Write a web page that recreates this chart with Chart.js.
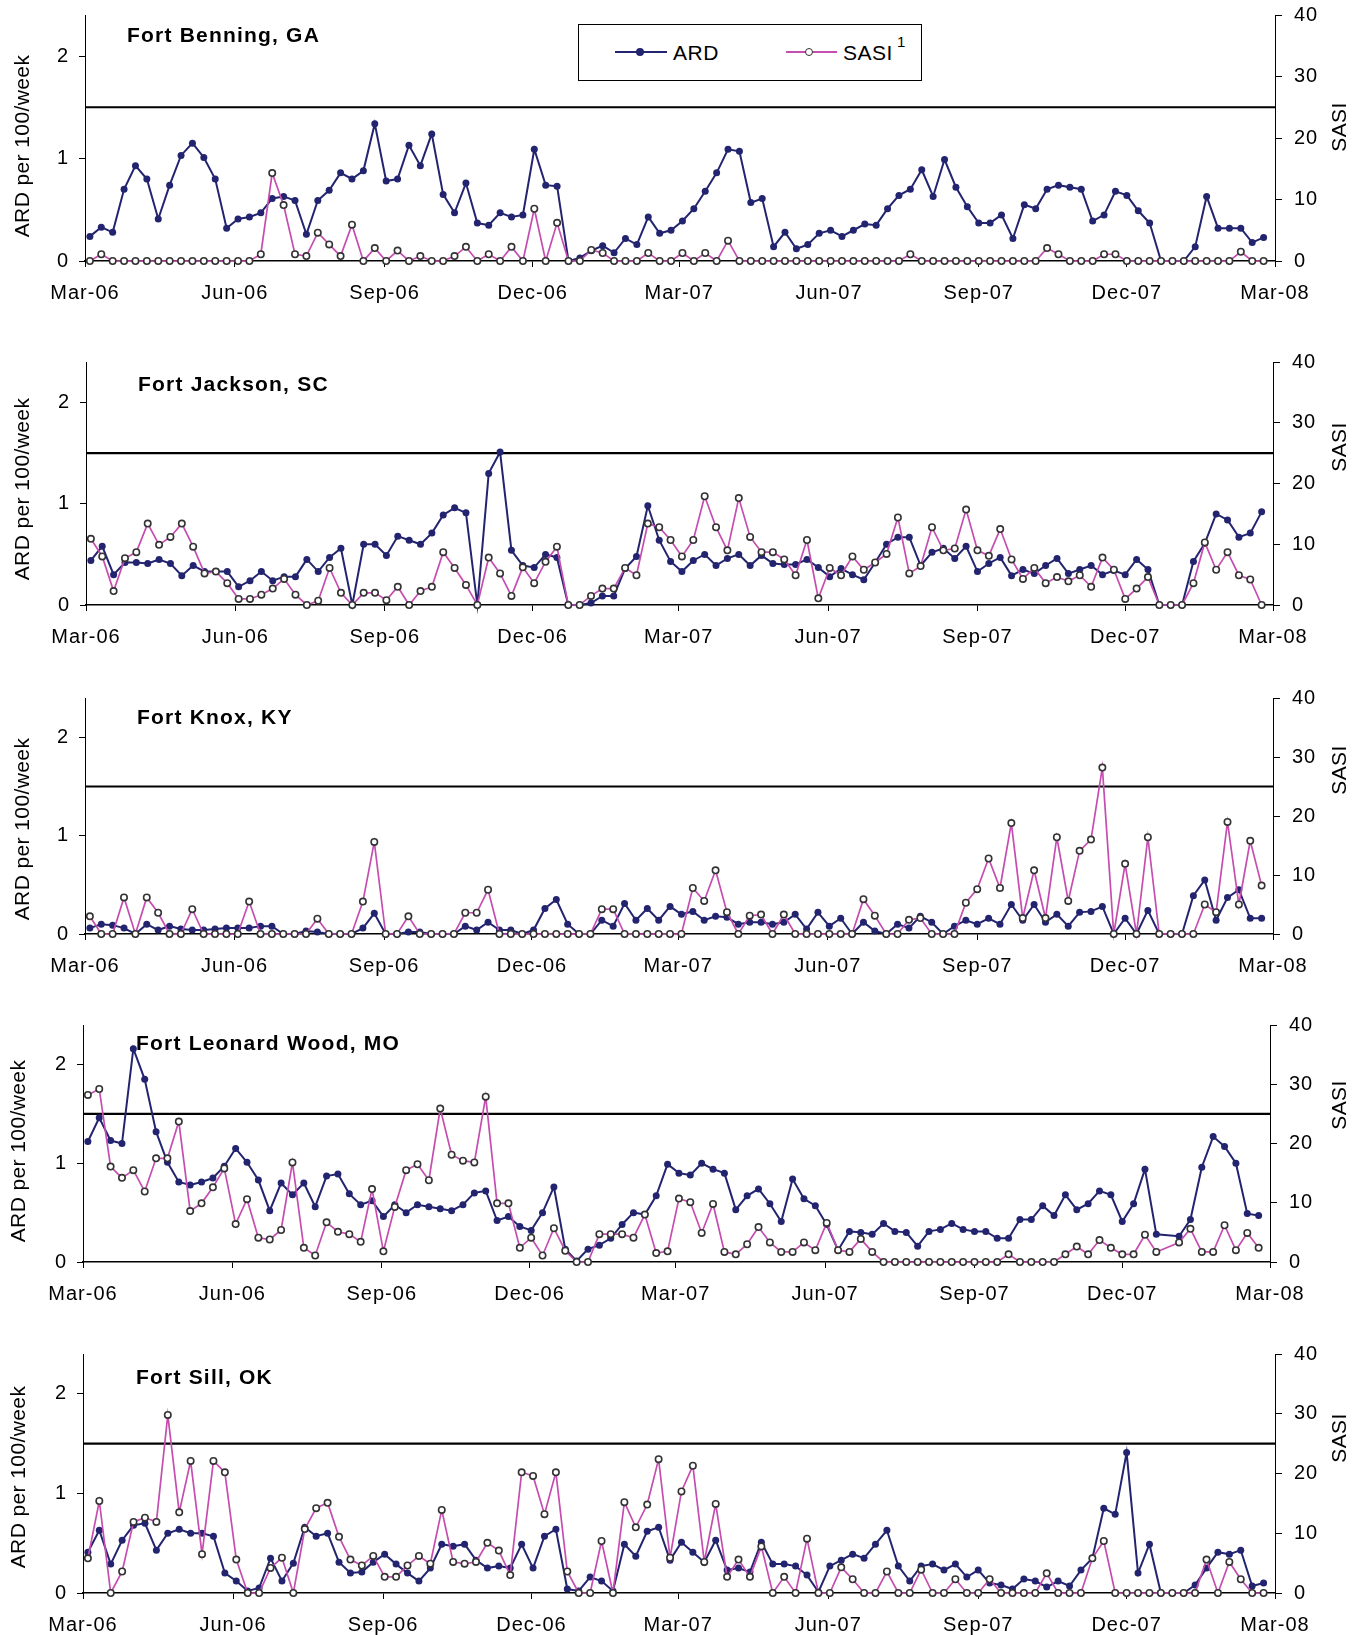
<!DOCTYPE html>
<html>
<head>
<meta charset="utf-8">
<title>ARD and SASI by training site</title>
<script src="https://cdn.jsdelivr.net/npm/chart.js@4.4.1/dist/chart.umd.min.js"></script>
<style>
  html, body { margin: 0; padding: 0; background: #fff; }
  #page {
    position: relative; width: 1358px; height: 1635px; overflow: hidden;
    font-family: "Liberation Sans", Arial, sans-serif; color: #000;
  }
  .panel { position: absolute; left: 0; }
  .panel canvas { display: block; }
  .site {
    position: absolute; font-weight: bold; font-size: 21px; letter-spacing: 1.2px;
    line-height: 1; transform: translateY(-50%); white-space: nowrap;
  }
  .ytitle {
    position: absolute; font-size: 21px; letter-spacing: 0.4px; line-height: 1; white-space: nowrap;
    transform: translate(-50%, -50%) rotate(-90deg);
  }
  #legend {
    position: absolute; left: 578px; top: 24px; width: 344px; height: 57px;
    border: 1px solid #000; background: #fff; box-sizing: border-box;
  }
  #legend .seg { position: absolute; height: 0; border-top: 2px solid; }
  #legend .dot { position: absolute; border-radius: 50%; box-sizing: border-box; }
  #legend .lbl { position: absolute; font-size: 21px; line-height: 1; letter-spacing: 0.5px; }
</style>
</head>
<body>
<div id="page">
  <div id="legend">
    <div class="seg" style="left:36px; top:26px; width:52px; border-color:#23246F;"></div>
    <div class="dot" style="left:57px; top:23px; width:8px; height:8px; background:#23246F;"></div>
    <div class="lbl" style="left:94px; top:17px;">ARD</div>
    <div class="seg" style="left:207px; top:26px; width:51px; border-color:#C64DB0;"></div>
    <div class="dot" style="left:226px; top:23px; width:8px; height:8px; background:#fff; border:1.5px solid #333;"></div>
    <div class="lbl" style="left:264px; top:17px;">SASI</div>
    <div class="lbl" style="left:318px; top:9px; font-size:15px;">1</div>
  </div>
</div>
<script>
// x axis: days after 1 Mar 2006, labelled every quarter
const TICK_LABELS = ['Mar-06', 'Jun-06', 'Sep-06', 'Dec-06', 'Mar-07', 'Jun-07', 'Sep-07', 'Dec-07', 'Mar-08'];
const TICK_DAYS = [0, 92, 184, 275, 365, 457, 549, 640, 731];
const FIRST_WEEK_DAY = 3;
const ARD_TICKS = [0, 1, 2];
const SASI_TICKS = [0, 10, 20, 30, 40];
const ARD_THRESHOLD = 1.5;

// weekly values, ARD per 100/week and SASI
const benningARD = [0.24, 0.33, 0.28, 0.70, 0.93, 0.80, 0.41, 0.74, 1.03, 1.15,
  1.01, 0.80, 0.32, 0.41, 0.43, 0.47, 0.61, 0.63, 0.59, 0.26,
  0.59, 0.69, 0.86, 0.80, 0.88, 1.34, 0.78, 0.80, 1.13, 0.93,
  1.24, 0.65, 0.47, 0.76, 0.37, 0.35, 0.47, 0.43, 0.45, 1.09,
  0.74, 0.73, 0, 0.03, 0.10, 0.15, 0.08, 0.22, 0.16, 0.43,
  0.27, 0.30, 0.39, 0.51, 0.68, 0.86, 1.09, 1.07, 0.57, 0.61,
  0.14, 0.28, 0.12, 0.16, 0.27, 0.30, 0.24, 0.30, 0.36, 0.35,
  0.51, 0.64, 0.70, 0.89, 0.63, 0.99, 0.72, 0.53, 0.37, 0.37,
  0.45, 0.22, 0.55, 0.51, 0.70, 0.74, 0.72, 0.70, 0.39, 0.45,
  0.68, 0.64, 0.49, 0.37, 0, 0, 0, 0.14, 0.63, 0.32,
  0.32, 0.32, 0.18, 0.23];
const benningSASI = [0, 1.1, 0, 0, 0, 0, 0, 0, 0, 0,
  0, 0, 0, 0, 0, 1.1, 14.3, 9.1, 1.1, 0.8,
  4.6, 2.7, 0.8, 5.9, 0, 2.1, 0, 1.7, 0, 0.8,
  0, 0, 0.8, 2.3, 0, 1.1, 0, 2.3, 0, 8.5,
  0, 6.2, 0, 0, 1.8, 1.3, 0, 0, 0, 1.3,
  0, 0, 1.3, 0, 1.3, 0, 3.3, 0, 0, 0,
  0, 0, 0, 0, 0, 0, 0, 0, 0, 0,
  0, 0, 1.1, 0, 0, 0, 0, 0, 0, 0,
  0, 0, 0, 0, 2.1, 1.1, 0, 0, 0, 1.1,
  1.1, 0, 0, 0, 0, 0, 0, 0, 0, 0,
  0, 1.5, 0, 0];

const jacksonARD = [0.44, 0.58, 0.30, 0.42, 0.42, 0.41, 0.45, 0.41, 0.29, 0.39,
  0.33, 0.33, 0.33, 0.18, 0.24, 0.33, 0.24, 0.28, 0.28, 0.45,
  0.33, 0.47, 0.56, 0, 0.60, 0.60, 0.49, 0.68, 0.64, 0.60,
  0.71, 0.89, 0.96, 0.91, 0, 1.30, 1.51, 0.54, 0.39, 0.37,
  0.50, 0.47, 0, 0, 0.02, 0.09, 0.09, 0.36, 0.48, 0.98,
  0.64, 0.43, 0.33, 0.44, 0.50, 0.39, 0.46, 0.50, 0.39, 0.49,
  0.41, 0.40, 0.40, 0.45, 0.37, 0.28, 0.36, 0.30, 0.25, 0.42,
  0.60, 0.67, 0.67, 0.39, 0.52, 0.56, 0.46, 0.58, 0.33, 0.41,
  0.47, 0.29, 0.35, 0.31, 0.39, 0.46, 0.31, 0.35, 0.39, 0.30,
  0.34, 0.30, 0.45, 0.35, 0, 0, 0, 0.43, 0.61, 0.90,
  0.84, 0.67, 0.71, 0.92];
const jacksonSASI = [10.9, 8.0, 2.3, 7.7, 8.7, 13.4, 9.9, 11.2, 13.4, 9.6,
  5.2, 5.5, 3.6, 1.0, 1.0, 1.7, 2.7, 4.3, 1.7, 0,
  0.7, 6.1, 2.0, 0, 2.0, 2.0, 0.8, 3.0, 0, 2.3,
  3.0, 8.7, 6.1, 3.3, 0, 7.8, 5.2, 1.5, 6.2, 3.6,
  7.1, 9.6, 0, 0, 1.5, 2.7, 2.7, 6.1, 4.9, 13.4,
  12.8, 10.7, 8.0, 10.7, 17.9, 12.8, 9.0, 17.6, 11.2, 8.7,
  8.7, 7.5, 4.9, 10.7, 1.1, 6.1, 4.9, 8.0, 5.8, 7.0,
  8.4, 14.4, 5.2, 6.4, 12.8, 9.0, 9.3, 15.7, 9.0, 8.1,
  12.5, 7.5, 4.3, 6.1, 3.6, 4.6, 3.9, 4.9, 3.0, 7.8,
  5.8, 1.0, 2.7, 4.6, 0, 0, 0, 3.6, 10.3, 5.8,
  8.7, 4.9, 4.2, 0];

const knoxARD = [0.06, 0.10, 0.09, 0.06, 0, 0.10, 0.04, 0.08, 0.05, 0.04,
  0.04, 0.05, 0.06, 0.06, 0.06, 0.08, 0.08, 0, 0, 0.03,
  0.02, 0, 0, 0, 0.06, 0.21, 0, 0, 0.02, 0.02,
  0, 0, 0, 0.08, 0.04, 0.12, 0.04, 0.04, 0, 0.04,
  0.26, 0.35, 0.10, 0, 0, 0.14, 0.08, 0.31, 0.14, 0.26,
  0.14, 0.28, 0.20, 0.23, 0.14, 0.18, 0.17, 0.10, 0.12, 0.12,
  0.10, 0.12, 0.20, 0.05, 0.22, 0.08, 0.16, 0, 0.12, 0.03,
  0, 0.10, 0.06, 0.18, 0.12, 0, 0.08, 0.14, 0.10, 0.16,
  0.10, 0.30, 0.14, 0.30, 0.12, 0.20, 0.08, 0.22, 0.23, 0.28,
  0, 0.16, 0, 0.24, 0, 0, 0, 0.39, 0.55, 0.14,
  0.37, 0.45, 0.16, 0.16];
const knoxSASI = [3.0, 0, 0, 6.2, 0, 6.2, 3.6, 0, 0, 4.2,
  0, 0, 0, 0, 5.5, 0, 0, 0, 0, 0,
  2.6, 0, 0, 0, 5.5, 15.6, 0, 0, 3.0, 0,
  0, 0, 0, 3.6, 3.6, 7.5, 0, 0, 0, 0,
  0, 0, 0, 0, 0, 4.2, 4.2, 0, 0, 0,
  0, 0, 0, 7.8, 5.6, 10.8, 3.7, 0, 3.1, 3.3,
  0, 3.3, 0, 0, 0, 0, 0, 0, 5.9, 3.1,
  0, 0, 2.4, 2.7, 0, 0, 0, 5.3, 7.6, 12.8,
  7.8, 18.8, 2.7, 10.8, 2.7, 16.4, 5.6, 14.1, 16.0, 28.2,
  0, 11.9, 0, 16.4, 0, 0, 0, 0, 5.0, 3.7,
  19.0, 5.0, 15.8, 8.2];

const leonardWoodARD = [1.22, 1.46, 1.23, 1.20, 2.16, 1.85, 1.32, 1.01, 0.81, 0.78,
  0.81, 0.85, 0.97, 1.15, 1.01, 0.83, 0.52, 0.80, 0.68, 0.80,
  0.56, 0.87, 0.89, 0.69, 0.58, 0.62, 0.46, 0.58, 0.50, 0.58,
  0.56, 0.54, 0.52, 0.58, 0.70, 0.72, 0.42, 0.46, 0.36, 0.32,
  0.50, 0.76, 0.13, 0.01, 0.13, 0.17, 0.24, 0.38, 0.50, 0.48,
  0.67, 0.99, 0.90, 0.88, 1.00, 0.94, 0.90, 0.53, 0.67, 0.74,
  0.59, 0.41, 0.84, 0.64, 0.57, 0.38, 0.12, 0.31, 0.30, 0.28,
  0.39, 0.31, 0.30, 0.16, 0.31, 0.33, 0.39, 0.33, 0.31, 0.31,
  0.24, 0.24, 0.43, 0.43, 0.57, 0.47, 0.68, 0.53, 0.59, 0.72,
  0.68, 0.41, 0.59, 0.94, 0.28, null, 0.26, 0.43, 0.96, 1.27,
  1.17, 1.00, 0.49, 0.47];
const leonardWoodSASI = [28.2, 29.2, 16.1, 14.2, 15.5, 11.9, 17.5, 17.5, 23.7, 8.6,
  9.9, 12.6, 15.8, 6.4, 10.6, 4.1, 3.8, 5.4, 16.8, 2.4,
  1.1, 6.7, 5.1, 4.7, 3.4, 12.3, 1.8, 9.3, 15.5, 16.5,
  13.8, 25.9, 18.1, 17.1, 16.8, 27.9, 9.9, 9.9, 2.4, 4.1,
  1.1, 5.7, 1.9, 0, 0, 4.7, 4.7, 4.7, 4.1, 8.0,
  1.5, 1.8, 10.7, 10.1, 4.9, 9.8, 1.7, 1.3, 3.0, 5.9,
  3.3, 1.7, 1.7, 3.3, 2.0, 6.6, 2.0, 1.7, 3.9, 1.7,
  0, 0, 0, 0, 0, 0, 0, 0, 0, 0,
  0, 1.3, 0, 0, 0, 0, 1.3, 2.6, 1.3, 3.7,
  2.4, 1.3, 1.3, 4.6, 1.7, null, 3.3, 5.6, 1.7, 1.7,
  6.2, 2.0, 4.9, 2.4];

const sillARD = [0.41, 0.63, 0.29, 0.53, 0.68, 0.70, 0.43, 0.60, 0.64, 0.60,
  0.60, 0.57, 0.20, 0.12, 0.02, 0.05, 0.35, 0.12, 0.30, 0.66,
  0.57, 0.60, 0.31, 0.20, 0.21, 0.31, 0.39, 0.29, 0.20, 0.12,
  0.25, 0.49, 0.47, 0.49, 0.33, 0.25, 0.27, 0.25, 0.49, 0.25,
  0.57, 0.64, 0.04, 0.02, 0.16, 0.12, 0.02, 0.49, 0.37, 0.62,
  0.66, 0.33, 0.51, 0.41, 0.31, 0.53, 0.23, 0.25, 0.21, 0.51,
  0.29, 0.29, 0.27, 0.18, 0.01, 0.27, 0.33, 0.39, 0.35, 0.49,
  0.63, 0.27, 0.12, 0.27, 0.29, 0.23, 0.29, 0.16, 0.23, 0.10,
  0.08, 0.04, 0.14, 0.12, 0.06, 0.12, 0.07, 0.23, 0.35, 0.85,
  0.79, 1.41, 0.20, 0.49, 0, 0, 0, 0.08, 0.25, 0.41,
  0.39, 0.43, 0.07, 0.10];
const sillSASI = [5.8, 15.4, 0, 3.6, 11.9, 12.6, 11.9, 29.8, 13.5, 22.1,
  6.5, 22.1, 20.2, 5.6, 0, 0, 4.2, 5.9, 0, 10.7,
  14.2, 15.1, 9.4, 5.6, 4.6, 6.2, 2.7, 2.7, 4.6, 6.2,
  4.9, 13.9, 5.2, 4.9, 5.2, 8.4, 7.1, 3.0, 20.2, 19.6,
  13.2, 20.2, 3.6, 0, 0, 8.7, 0, 15.2, 11.0, 14.8,
  22.4, 5.9, 17.0, 21.3, 5.2, 14.9, 2.7, 5.6, 2.7, 7.8,
  0, 2.7, 0, 9.1, 0, 0, 4.3, 2.3, 0, 0,
  3.6, 0, 0, 3.9, 0, 0, 2.3, 0, 0, 2.3,
  0, 0, 0, 0, 3.3, 0, 0, 0, 5.8, 8.7,
  0, 0, 0, 0, 0, 0, 0, 0, 5.6, 0,
  5.2, 2.3, 0, 0];

const SITES = [
  { name: 'Fort Benning, GA', ard: benningARD, sasi: benningSASI },
  { name: 'Fort Jackson, SC', ard: jacksonARD, sasi: jacksonSASI },
  { name: 'Fort Knox, KY', ard: knoxARD, sasi: knoxSASI },
  { name: 'Fort Leonard Wood, MO', ard: leonardWoodARD, sasi: leonardWoodSASI },
  { name: 'Fort Sill, OK', ard: sillARD, sasi: sillSASI }
];

// page position of every plot area and its labels
const PAGE_W = 1358;
const BOXES = [
  { top: 15, bottom: 261, left: 85, right: 1275, titleX: 127, titleY: 34, ardY: 146, sasiY: 127, ardX: 21 },
  { top: 362, bottom: 605, left: 86, right: 1273, titleX: 138, titleY: 383, ardY: 489, sasiY: 447, ardX: 21 },
  { top: 698, bottom: 934, left: 85, right: 1273, titleX: 137, titleY: 716, ardY: 829, sasiY: 770, ardX: 21 },
  { top: 1025, bottom: 1262, left: 83, right: 1270, titleX: 136, titleY: 1042, ardY: 1151, sasiY: 1105, ardX: 17 },
  { top: 1354, bottom: 1593, left: 83, right: 1275, titleX: 136, titleY: 1376, ardY: 1477, sasiY: 1438, ardX: 17 }
];

const ARD_COLOR = '#23246F';
const SASI_COLOR = '#C64DB0';
// room above the plot for the top tick label, so chart.js keeps the plot top where we put it
const PAD_TOP = 30;
const X_AXIS_H = 50;

// canvas text in the reference is a little spread out
const letterSpacing = {
  id: 'letterSpacing',
  beforeDraw(chart) {
    chart.ctx.letterSpacing = '1px';
  }
};

function weeklyPoints(values) {
  return values.map((v, i) => ({ x: FIRST_WEEK_DAY + 7 * i, y: v }));
}

function addText(cls, text, x, y) {
  const el = document.createElement('div');
  el.className = cls;
  el.textContent = text;
  el.style.left = x + 'px';
  el.style.top = y + 'px';
  document.getElementById('page').appendChild(el);
  return el;
}

function makePanel(site, box) {
  const page = document.getElementById('page');
  const wrap = document.createElement('div');
  wrap.className = 'panel';
  wrap.style.top = (box.top - PAD_TOP) + 'px';
  const canvas = document.createElement('canvas');
  canvas.width = PAGE_W;
  canvas.height = box.bottom - box.top + PAD_TOP + X_AXIS_H;
  wrap.appendChild(canvas);
  page.insertBefore(wrap, page.firstChild);

  const tickFont = { family: '"Liberation Sans", Arial, sans-serif', size: 20 };

  new Chart(canvas.getContext('2d'), {
    type: 'line',
    data: {
      datasets: [
        {
          label: 'SASI',
          yAxisID: 'y2',
          data: weeklyPoints(site.sasi),
          borderColor: SASI_COLOR,
          borderWidth: 1.7,
          pointRadius: 3.2,
          pointBackgroundColor: '#fff',
          pointBorderColor: '#333',
          pointBorderWidth: 1.6,
          spanGaps: true,
          clip: false,
          order: 1
        },
        {
          label: 'ARD',
          yAxisID: 'y',
          data: weeklyPoints(site.ard),
          borderColor: ARD_COLOR,
          borderWidth: 2,
          pointRadius: 3.5,
          pointBackgroundColor: ARD_COLOR,
          pointBorderColor: ARD_COLOR,
          pointBorderWidth: 0,
          spanGaps: true,
          clip: false,
          order: 2
        },
        {
          label: 'threshold',
          yAxisID: 'y',
          data: [{ x: TICK_DAYS[0], y: ARD_THRESHOLD }, { x: TICK_DAYS[TICK_DAYS.length - 1], y: ARD_THRESHOLD }],
          borderColor: '#000',
          borderWidth: 2.2,
          pointRadius: 0,
          order: 3
        }
      ]
    },
    options: {
      responsive: false,
      animation: false,
      events: [],
      layout: { padding: { top: PAD_TOP, left: 0, right: 0, bottom: 0 } },
      plugins: {
        legend: { display: false },
        tooltip: { enabled: false }
      },
      elements: { line: { tension: 0 } },
      scales: {
        x: {
          type: 'linear',
          min: TICK_DAYS[0],
          max: TICK_DAYS[TICK_DAYS.length - 1],
          afterBuildTicks: s => { s.ticks = TICK_DAYS.map(v => ({ value: v })); },
          afterFit: s => { s.height = X_AXIS_H; },
          ticks: {
            autoSkip: false,
            maxRotation: 0,
            padding: 14,
            color: '#000',
            font: tickFont,
            callback: v => TICK_LABELS[TICK_DAYS.indexOf(v)]
          },
          grid: { drawOnChartArea: false, tickLength: 6, color: '#000' },
          border: { color: '#000', width: 1.5 }
        },
        y: {
          position: 'left',
          min: 0,
          max: 2.4,
          afterBuildTicks: s => { s.ticks = ARD_TICKS.map(v => ({ value: v })); },
          afterFit: s => { s.width = box.left; },
          ticks: { padding: 10, color: '#000', font: tickFont },
          grid: { drawOnChartArea: false, tickLength: 6, color: '#000' },
          border: { color: '#000', width: 1 }
        },
        y2: {
          position: 'right',
          min: 0,
          max: 40,
          afterBuildTicks: s => { s.ticks = SASI_TICKS.map(v => ({ value: v })); },
          afterFit: s => { s.width = PAGE_W - box.right; },
          ticks: { padding: 12, color: '#000', font: tickFont },
          grid: { drawOnChartArea: false, tickLength: 7, color: '#000' },
          border: { color: '#000', width: 1 }
        }
      }
    },
    plugins: [letterSpacing]
  });

  addText('site', site.name, box.titleX, box.titleY);
  addText('ytitle', 'ARD per 100/week', box.ardX, box.ardY);
  addText('ytitle', 'SASI', 1338, box.sasiY);
}

document.addEventListener('DOMContentLoaded', () => {
  SITES.forEach((site, i) => makePanel(site, BOXES[i]));
  // keep the legend above the first chart
  const page = document.getElementById('page');
  page.appendChild(document.getElementById('legend'));
});
</script>
</body>
</html>
